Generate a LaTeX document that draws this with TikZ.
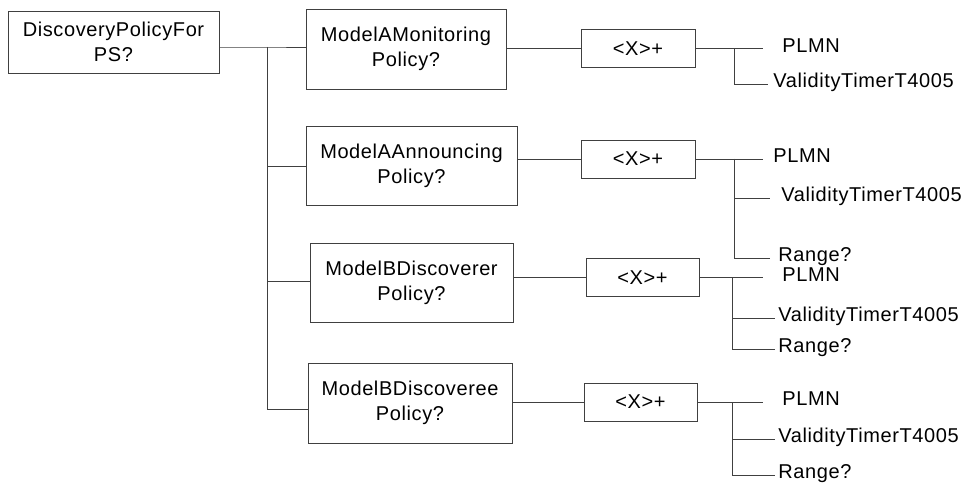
\documentclass[tikz,border=0pt]{standalone}
\usepackage{fontspec}
\setmainfont{Liberation Sans}[LetterSpace=3]
\usepackage{tikz}

\begin{document}
\begin{tikzpicture}[x=1pt,y=-1pt,line width=0.9pt,draw=black!75,
               main node/.style={draw,align=center,inner sep=0pt,font=\fontsize{20}{25}\selectfont},
               x node/.style={main node,minimum width=114pt,minimum height=38pt},
               leaf node/.style={anchor=west,inner xsep=#1,inner ysep=0pt,text height=0.72em,text depth=0pt,font=\fontsize{20}{25}\selectfont},
               leaf node/.default=4pt]
  \useasboundingbox (0,0) rectangle (965,486);

  \node[main node, minimum width=211pt, minimum height=62pt] (root) at (113.5,42) {DiscoveryPolicyFor\\PS?};
  \node[main node, minimum width=200pt, minimum height=80pt] (1) at (406,49) {ModelAMonitoring\\Policy?};
  \node[main node, minimum width=211pt, minimum height=79pt] (2) at (411.5,165.5) {ModelAAnnouncing\\Policy?};
  \node[main node, minimum width=203pt, minimum height=79pt] (3) at (411.5,282.5) {ModelBDiscoverer\\Policy?};
  \node[main node, minimum width=204pt, minimum height=80pt] (4) at (410,403) {ModelBDiscoveree\\Policy?};

  \node[x node] (1x) at (638,48.5) {<X>+};
  \node[x node] (2x) at (638,159) {<X>+};
  \node[x node, minimum width=113pt] (3x) at (642.5,277.5) {<X>+};
  \node[x node, minimum width=113pt] (4x) at (640.5,402) {<X>+};

  % trunk
  \coordinate (t1) at (267,47);
  \coordinate (t2) at (267,166);
  \coordinate (t3) at (267,281);
  \coordinate (t4) at (267,409);
  \draw (root.east |- t1) -- (t1) -- (t1 -| 1.west);
  \draw (t1) -- (t4) -- (t4 -| 4.west);
  \draw (t2) -- (t2 -| 2.west);
  \draw (t3) -- (t3 -| 3.west);

  \draw (1x.west -| 1.east) -- (1x.west);
  \draw (2x.west -| 2.east) -- (2x.west);
  \draw (3x.west -| 3.east) -- (3x.west);
  \draw (4x.west -| 4.east) -- (4x.west);

  % leaves
  \coordinate (b1) at (734,48.5);
  \node[leaf node=19pt] (1a) at (763,48.5) {PLMN};
  \node[leaf node=5pt] (1b) at (768,84) {ValidityTimerT4005};
  \draw (1x.east) -- (1a.west);
  \draw (b1) |- (1b.west);

  \coordinate (b2) at (734,159);
  \node[leaf node=10pt] (2a) at (763,159) {PLMN};
  \node[leaf node=11pt] (2b) at (770,198) {ValidityTimerT4005};
  \node[leaf node=8pt] (2c) at (770,258) {Range?};
  \draw (2x.east) -- (2a.west);
  \draw (b2) |- (2b.west);
  \draw (b2) |- (2c.west);

  \coordinate (b3) at (732,277.5);
  \node[leaf node=19pt] (3a) at (763,277.5) {PLMN};
  \node[leaf node=3pt] (3b) at (775,318) {ValidityTimerT4005};
  \node[leaf node=3pt] (3c) at (775,349) {Range?};
  \draw (3x.east) -- (3a.west);
  \draw (b3) |- (3b.west);
  \draw (b3) |- (3c.west);

  \coordinate (b4) at (732,402);
  \node[leaf node=19pt] (4a) at (763,402) {PLMN};
  \node[leaf node=3pt] (4b) at (775,439) {ValidityTimerT4005};
  \node[leaf node=3pt] (4c) at (775,475) {Range?};
  \draw (4x.east) -- (4a.west);
  \draw (b4) |- (4b.west);
  \draw (b4) |- (4c.west);
\end{tikzpicture}
\end{document}
